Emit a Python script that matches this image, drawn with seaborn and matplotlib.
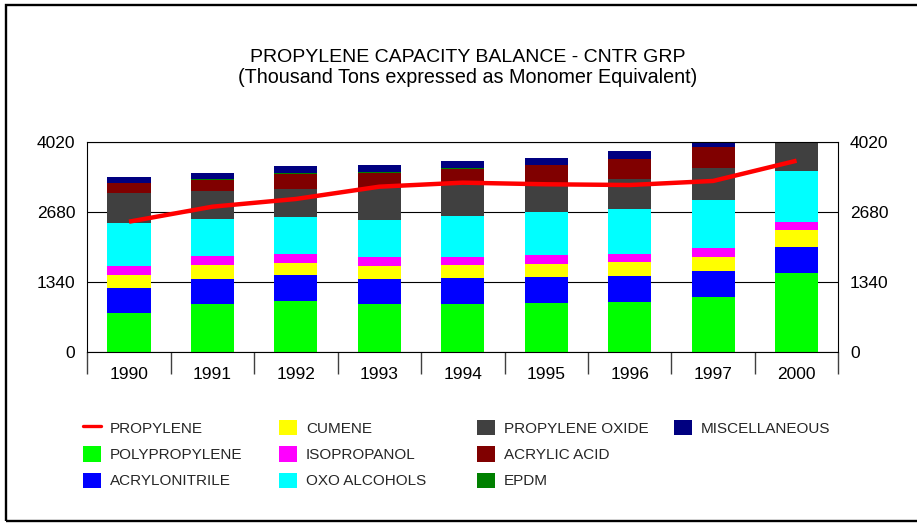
import numpy as np
import pandas as pd
import matplotlib
matplotlib.use("Agg")
import matplotlib.pyplot as plt
import seaborn as sns
from matplotlib.patches import Patch, Rectangle
from matplotlib.lines import Line2D
from matplotlib.ticker import FixedLocator

# ---------------- data ----------------
years = ["1990", "1991", "1992", "1993", "1994", "1995", "1996", "1997", "2000"]
propylene = [2496, 2784, 2932, 3168, 3245, 3214, 3200, 3278, 3667]

polypropylene = [743, 922, 979, 922, 922, 935, 960, 1056, 1511]
acrylonitrile = [480, 480, 488, 480, 493, 493, 499, 499, 493]
cumene = [244, 262, 236, 237, 244, 250, 263, 263, 339]
isopropanol = [178, 173, 173, 173, 159, 173, 160, 173, 153]
oxo_alcohols = [826, 717, 710, 723, 793, 825, 852, 927, 979]
propylene_oxide = [582, 525, 531, 608, 584, 563, 588, 609, 650]
acrylic_acid = [180, 223, 301, 294, 319, 346, 372, 397, 400]
epdm = [8, 8, 8, 8, 8, 8, 8, 8, 8]
miscellaneous = [113, 115, 139, 140, 139, 132, 146, 150, 150]

series_names = ["POLYPROPYLENE", "ACRYLONITRILE", "CUMENE", "ISOPROPANOL",
                "OXO ALCOHOLS", "PROPYLENE OXIDE", "ACRYLIC ACID", "EPDM",
                "MISCELLANEOUS"]
series_values = [polypropylene, acrylonitrile, cumene, isopropanol, oxo_alcohols,
                 propylene_oxide, acrylic_acid, epdm, miscellaneous]
series_colors = ["#00FF00", "#0000FF", "#FFFF00", "#FF00FF", "#00FFFF",
                 "#404040", "#800000", "#008000", "#000080"]
line_color = "#FF0000"
yticks = [0, 1340, 2680, 4020]

# ---------------- figure ----------------
sns.set_style("white")
plt.rcParams["font.family"] = ["Liberation Sans", "DejaVu Sans"]

W, H = 917, 523
fig = plt.figure(figsize=(W / 100, H / 100), dpi=100)
ax = fig.add_axes([87.3 / W, 1 - 351.7 / H, (838.3 - 87.3) / W, (351.7 - 142.3) / H])

df = pd.DataFrame({"year": years})
cum = np.zeros(len(years))
cums = []
for vals in series_values:
    cum = cum + np.array(vals, dtype=float)
    cums.append(cum.copy())
# draw from the top of the stack downwards so lower segments overlay
for name, c, top in reversed(list(zip(series_names, series_colors, cums))):
    d = df.copy()
    d["v"] = top
    sns.barplot(data=d, x="year", y="v", color=c, saturation=1, width=0.516,
                linewidth=0, ax=ax, zorder=2)

sns.lineplot(x=np.arange(len(years)), y=propylene, color=line_color,
             linewidth=3.2, ax=ax, zorder=5, solid_capstyle="butt")

ax.set_xlim(-0.5, len(years) - 0.5)
ax.set_ylim(0, 4020)
ax.set_yticks(yticks)
ax.set_yticklabels([str(t) for t in yticks])
ax.set_xlabel("")
ax.set_ylabel("")
ax.set_axisbelow(True)
ax.yaxis.grid(True, color="black", linewidth=0.8)
ax.xaxis.grid(False)
for s in ax.spines.values():
    s.set_visible(True)
    s.set_color("black")
    s.set_linewidth(0.8)

ax.tick_params(axis="y", which="both", left=False, right=False,
               labelleft=True, labelright=True, pad=5, labelsize=12.5,
               labelcolor="black")
ax.xaxis.set_minor_locator(FixedLocator(np.arange(-0.5, len(years), 1.0)))
ax.tick_params(axis="x", which="major", length=0, pad=11, labelsize=12.5,
               labelcolor="black")
ax.tick_params(axis="x", which="minor", length=15.8, width=1.0,
               color="#404040", direction="out", bottom=True)

# titles
fig.text(468 / W, 1 - 62.5 / H, "PROPYLENE CAPACITY BALANCE - CNTR GRP",
         ha="center", va="baseline", fontsize=14, color="black")
fig.text(468 / W, 1 - 83.0 / H, "(Thousand Tons expressed as Monomer Equivalent)",
         ha="center", va="baseline", fontsize=14.2, color="black")

# legend (four columns)
handles_all = [Line2D([0], [0], color=line_color, linewidth=2.4)] + \
    [Patch(facecolor=c, edgecolor="none") for c in series_colors]
labels_all = ["PROPYLENE"] + series_names
cols = [[0, 1, 2], [3, 4, 5], [6, 7, 8], [9]]
col_x = [83, 279, 477, 674]
for idxs, x0 in zip(cols, col_x):
    leg = fig.legend([handles_all[i] for i in idxs], [labels_all[i] for i in idxs],
                     loc="upper left", bbox_to_anchor=(x0 / W, 1 - 420 / H),
                     frameon=False, borderpad=0, borderaxespad=0,
                     handlelength=1.18, handleheight=1.18, handletextpad=0.59,
                     labelspacing=0.68, fontsize=11, ncol=1)

# outer frame
fig.patches.append(Rectangle((6 / W, 1 - 521 / H), 1.2, (521 - 5.3) / H,
                             transform=fig.transFigure, fill=False,
                             edgecolor="black", linewidth=1.7, zorder=10))

fig.savefig("out.png", dpi=100)
